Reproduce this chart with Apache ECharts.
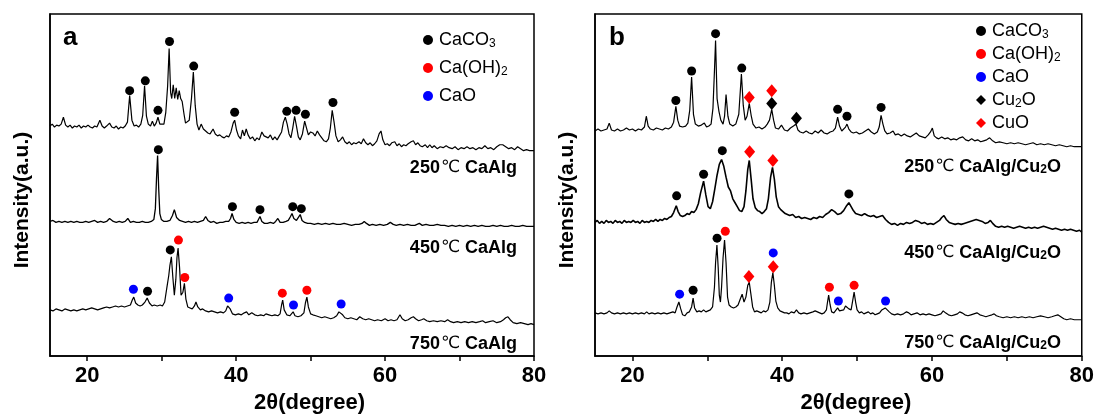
<!DOCTYPE html>
<html><head><meta charset="utf-8">
<script src="https://cdn.jsdelivr.net/npm/echarts@6/dist/echarts.min.js"></script>
<style>html,body{margin:0;padding:0;background:#fff}#c{width:1097px;height:419px}</style>
</head><body><div id="c"></div><script>
const FONT = '"Liberation Sans", Arial, "Noto Sans CJK SC", sans-serif';
const DEG_FONT = '"DejaVu Sans", "Liberation Sans", sans-serif';
const xTicks = [20, 30, 40, 50, 60, 70, 80];
const xTickLabels = [20, 40, 60, 80];
const xName = '2θ(degree)';
const yName = 'Intensity(a.u.)';
const panelNames = ['a', 'b'];
const phasesA = ['CaCO3', 'Ca(OH)2', 'CaO'];
const phasesB = ['CaCO3', 'Ca(OH)2', 'CaO', 'Cu2O', 'CuO'];
const labelsA = ['250℃ CaAlg', '450℃ CaAlg', '750℃ CaAlg'];
const labelsB = ['250℃ CaAlg/Cu2O', '450℃ CaAlg/Cu2O', '750℃ CaAlg/Cu2O'];

// ---- panel a traces: [2theta, intensity (stacked, a.u.)]
const a250 = [[15,234],[15.3,236],[15.6,233],[15.9,235],[16.2,234],[16.5,236],[16.8,243],[17.1,235],[17.4,233],[17.7,235],[18,232],[18.3,234],[18.6,233],[18.9,235],[19.2,232],[19.5,234],[19.8,233],[20.1,235],[20.4,233],[20.7,232],[21,234],[21.3,233],[21.7,240],[22,234],[22.3,232],[22.6,234],[23,237],[23.3,233],[23.6,232],[23.9,234],[24.2,231],[24.5,233],[24.8,232],[25.1,234],[25.4,238],[25.7,265],[26,240],[26.3,234],[26.6,235],[26.9,233],[27.2,236],[27.45,245],[27.7,275],[27.95,244],[28.2,236],[28.5,234],[28.75,239],[29,234],[29.25,237],[29.5,243],[29.75,236],[30,234],[30.3,236],[30.55,248],[30.8,275],[31,313],[31.2,268],[31.35,262],[31.55,276],[31.75,262],[31.95,273],[32.15,261],[32.35,270],[32.55,262],[32.75,259],[33,246],[33.2,237],[33.45,235],[33.7,240],[34,262],[34.25,289],[34.5,255],[34.75,236],[35,230],[35.3,236],[35.6,231],[35.9,229],[36.2,227],[36.5,226],[36.9,231],[37.2,226],[37.5,224],[37.8,225],[38.1,223],[38.4,222],[38.7,224],[39,223],[39.3,228],[39.6,237],[39.8,240],[40.05,230],[40.3,224],[40.6,221],[40.85,230],[41.1,224],[41.35,231],[41.6,225],[41.9,221],[42.2,223],[42.5,219],[42.8,222],[43.1,220],[43.45,228],[43.75,224],[44,226],[44.3,222],[44.6,225],[44.9,220],[45.2,223],[45.5,220],[45.8,224],[46.1,228],[46.35,238],[46.6,243],[46.85,236],[47.1,226],[47.35,222],[47.6,232],[47.85,244],[48.1,234],[48.35,223],[48.6,220],[48.9,226],[49.2,239],[49.45,232],[49.7,225],[50,228],[50.3,227],[50.6,224],[50.9,229],[51.2,225],[51.5,222],[51.8,219],[52.1,218],[52.4,221],[52.65,232],[52.9,250],[53.15,238],[53.4,224],[53.7,218],[54,220],[54.3,223],[54.6,218],[54.9,216],[55.2,218],[55.5,215],[55.8,217],[56.1,216],[56.5,218],[56.8,216],[57.1,221],[57.4,217],[57.7,215],[58,217],[58.3,214],[58.6,216],[58.9,219],[59.2,226],[59.45,229],[59.7,220],[60,215],[60.3,216],[60.6,214],[60.9,217],[61.3,218],[61.6,214],[61.9,216],[62.2,213],[62.5,215],[62.8,214],[63.1,216],[63.5,218],[63.8,219],[64.1,215],[64.4,217],[64.7,214],[65,213],[65.4,215],[65.7,212],[66,215],[66.3,212],[66.6,214],[67,211],[67.4,213],[67.8,212],[68.2,214],[68.6,212],[69,211],[69.4,213],[69.8,210],[70.2,212],[70.6,211],[71,213],[71.4,211],[71.8,212],[72.2,210],[72.6,212],[73,211],[73.4,214],[73.8,211],[74.2,212],[74.6,210],[75,213],[75.4,215],[75.8,215],[76.2,213],[76.6,211],[77,212],[77.4,210],[77.8,213],[78.2,211],[78.6,209],[79,210],[79.4,209],[80,209]];
const a450 = [[15,137],[15.4,138],[15.8,136],[16.2,137],[16.6,136],[17,137],[17.4,136],[17.8,137],[18.2,136],[18.6,137],[19,136],[19.4,136],[19.8,137],[20.2,136],[20.6,137],[21,138],[21.4,136],[21.8,137],[22.2,136],[22.6,137],[23,140],[23.2,142],[23.5,137],[23.9,136],[24.3,137],[24.7,136],[25.1,137],[25.45,140],[25.8,136],[26.2,137],[26.6,136],[27,136],[27.4,137],[27.8,136],[28.2,136],[28.6,137],[28.95,139],[29.15,150],[29.3,180],[29.45,204],[29.6,170],[29.75,145],[29.95,139],[30.3,137],[30.7,137],[31.1,138],[31.45,143],[31.7,149],[32,141],[32.4,138],[32.8,137],[33.2,136],[33.6,137],[34,136],[34.4,137],[34.8,136],[35.2,137],[35.6,138],[35.9,142],[36.2,138],[36.6,136],[37,137],[37.4,135],[37.8,136],[38.2,136],[38.6,137],[39,137],[39.25,140],[39.45,145],[39.7,139],[40,136],[40.4,135],[40.8,136],[41.2,135],[41.6,136],[42,135],[42.4,136],[42.8,136],[43,139],[43.2,142],[43.45,137],[43.8,135],[44.2,135],[44.6,136],[45,135],[45.3,137],[45.6,140],[45.9,136],[46.3,136],[46.7,137],[47,138],[47.3,142],[47.5,145],[47.75,140],[48.1,138],[48.35,140],[48.6,144],[48.85,138],[49.2,136],[49.6,135],[50,135],[50.5,134],[51,135],[51.5,134],[52,135],[52.5,134],[53,135],[53.5,134],[54,134],[54.5,135],[55,134],[55.5,133],[56,134],[56.5,134],[56.9,135],[57.2,137],[57.5,135],[57.9,133],[58.3,134],[58.8,133],[59.3,134],[59.8,133],[60.3,134],[60.7,136],[61.1,134],[61.5,133],[62,134],[62.5,133],[63,134],[63.5,133],[64,133],[64.6,135],[65,133],[65.5,134],[66,133],[66.5,133],[67,134],[67.5,133],[68,133],[68.5,132],[69,133],[69.5,132],[70,133],[70.5,132],[71,133],[71.5,132],[72,133],[72.5,132],[73,133],[73.5,132],[74,132],[74.5,133],[75,132],[75.5,133],[76,132],[76.5,132],[77,133],[77.5,132],[78,132],[78.5,133],[79,132],[79.5,132],[80,132]];
const a750 = [[15,47],[15.4,46],[15.8,48],[16.2,47],[16.6,46],[17,48],[17.4,47],[17.8,46],[18.2,47],[18.6,46],[19,47],[19.4,48],[19.8,47],[20.2,48],[20.6,49],[21,48],[21.4,47],[21.8,48],[22.2,49],[22.6,50],[23,49],[23.4,50],[23.8,51],[24.2,50],[24.6,51],[25,50],[25.4,51],[25.8,52],[26.05,57],[26.25,60],[26.5,54],[26.8,52],[27.1,51],[27.4,52],[27.75,55],[28.05,59],[28.35,54],[28.7,51],[29,52],[29.4,51],[29.8,52],[30.1,51],[30.4,55],[30.7,70],[30.95,82],[31.1,92],[31.3,101],[31.5,80],[31.7,62],[31.9,78],[32.05,100],[32.2,110],[32.4,90],[32.6,62],[32.85,65],[33.05,74],[33.25,58],[33.5,50],[33.8,49],[34.1,48],[34.4,51],[34.6,55],[34.85,50],[35.2,47],[35.5,48],[35.9,46],[36.3,45],[36.7,46],[37.1,45],[37.5,44],[37.9,45],[38.3,44],[38.6,46],[38.85,51],[39,53],[39.2,48],[39.5,43],[39.9,42],[40.3,43],[40.7,42],[41.1,44],[41.4,45],[41.7,42],[42.1,44],[42.5,42],[42.9,41],[43.3,42],[43.7,41],[44,43],[44.4,42],[44.8,41],[45.2,42],[45.6,41],[45.9,43],[46.1,52],[46.25,57],[46.45,47],[46.8,42],[47.2,41],[47.45,43],[47.65,45],[47.9,41],[48.3,40],[48.7,41],[49.1,44],[49.3,54],[49.5,60],[49.7,50],[50,43],[50.3,42],[50.7,41],[51.1,40],[51.5,39],[51.9,40],[52.3,39],[52.7,38],[53.1,39],[53.5,41],[53.8,45],[54,45],[54.3,42],[54.6,39],[55,38],[55.4,39],[55.8,38],[56.2,37],[56.6,40],[57,38],[57.4,37],[57.8,38],[58.2,37],[58.6,36],[59,37],[59.5,36],[60,38],[60.4,36],[60.8,37],[61.2,36],[61.6,37],[62,42],[62.3,38],[62.7,36],[63.1,37],[63.5,39],[63.8,40],[64.1,38],[64.5,36],[64.9,37],[65.2,38],[65.6,36],[66,35],[66.5,36],[67,35],[67.5,36],[68,35],[68.4,37],[68.8,35],[69.2,34],[69.7,35],[70.2,34],[70.7,35],[71.2,34],[71.7,35],[72.2,34],[72.7,35],[73.1,36],[73.5,34],[74,35],[74.5,36],[75,34],[75.5,35],[75.9,37],[76.2,39],[76.5,40],[76.8,37],[77.2,34],[77.7,33],[78.2,34],[78.7,33],[79.2,32],[79.6,33],[80,32]];

// ---- panel b traces
const b250 = [[15,229],[15.4,231],[15.8,229],[16.2,230],[16.6,231],[16.9,237],[17.2,230],[17.6,229],[18,231],[18.4,229],[18.8,230],[19.2,232],[19.6,230],[20,231],[20.4,229],[20.8,231],[21.2,230],[21.6,233],[21.85,244],[22.1,234],[22.4,231],[22.8,230],[23.2,232],[23.6,231],[24,230],[24.4,232],[24.8,231],[25.2,233],[25.5,238],[25.8,254],[26.05,240],[26.3,234],[26.7,233],[27.1,234],[27.4,237],[27.65,250],[27.9,284],[28.15,246],[28.4,236],[28.8,234],[29.2,235],[29.6,237],[29.9,233],[30.2,234],[30.5,236],[30.75,252],[30.95,290],[31.1,321],[31.3,262],[31.55,249],[31.8,240],[32.1,236],[32.3,244],[32.5,266],[32.75,244],[33,236],[33.4,234],[33.8,236],[34.2,246],[34.55,287],[34.8,255],[35.05,240],[35.3,244],[35.6,257],[35.85,245],[36.1,236],[36.5,232],[36.9,233],[37.3,231],[37.7,233],[38,236],[38.3,240],[38.6,251],[38.85,240],[39.1,232],[39.5,231],[39.9,235],[40.3,230],[40.7,229],[41.1,232],[41.5,234],[41.85,236],[42.1,230],[42.4,228],[42.8,227],[43.2,229],[43.6,227],[44,226],[44.4,229],[44.8,227],[45.2,230],[45.6,227],[46,226],[46.4,228],[46.8,229],[47.1,232],[47.4,243],[47.65,234],[47.95,229],[48.2,230],[48.45,233],[48.65,236],[48.9,231],[49.2,228],[49.5,227],[49.9,228],[50.3,226],[50.7,227],[51.1,229],[51.5,231],[51.9,228],[52.3,226],[52.7,228],[52.95,233],[53.2,245],[53.45,236],[53.7,229],[54,226],[54.4,227],[54.8,229],[55.1,225],[55.5,226],[55.9,224],[56.3,226],[56.7,224],[57.1,223],[57.5,225],[57.9,227],[58.3,224],[58.7,223],[59.1,222],[59.5,225],[59.8,228],[60.05,232],[60.3,224],[60.6,222],[60.9,221],[61.3,223],[61.7,221],[62.1,222],[62.5,220],[62.9,221],[63.3,220],[63.7,222],[64.1,223],[64.5,220],[64.9,219],[65.3,221],[65.7,219],[66.1,220],[66.5,218],[66.9,219],[67.3,220],[67.7,222],[68.1,219],[68.5,217],[69,218],[69.5,217],[70,216],[70.5,217],[71,216],[71.5,217],[72,216],[72.5,215],[73,216],[73.5,217],[74,215],[74.5,216],[75,215],[75.5,216],[76,215],[76.5,214],[77,215],[77.5,214],[78,213],[78.5,214],[79,213],[79.5,213],[80,213]];
const b450 = [[15,136],[15.3,138],[15.6,135],[15.9,137],[16.2,135],[16.5,138],[16.8,136],[17.1,137],[17.4,135],[17.7,138],[18,136],[18.3,137],[18.6,135],[18.9,138],[19.2,136],[19.5,137],[19.8,136],[20.1,138],[20.4,136],[20.7,137],[21,135],[21.3,138],[21.6,136],[21.9,137],[22.2,136],[22.5,138],[22.8,137],[23.1,139],[23.4,137],[23.7,139],[24,138],[24.3,140],[24.6,139],[24.9,141],[25.2,142],[25.5,146],[25.85,153],[26.1,147],[26.4,143],[26.7,142],[27,143],[27.3,145],[27.6,144],[27.9,147],[28.2,146],[28.5,149],[28.8,155],[29.1,166],[29.5,178],[29.8,164],[30.1,152],[30.4,150],[30.7,157],[31,170],[31.3,184],[31.6,195],[31.9,200],[32.2,193],[32.5,182],[32.8,172],[33.1,168],[33.4,160],[33.7,156],[34,152],[34.3,148],[34.6,147],[34.9,152],[35.15,168],[35.4,190],[35.6,199],[35.85,180],[36.1,160],[36.4,151],[36.7,148],[37,147],[37.3,145],[37.6,147],[37.9,150],[38.15,160],[38.45,182],[38.7,192],[38.95,180],[39.2,162],[39.5,152],[39.8,149],[40.1,147],[40.4,145],[40.7,144],[41,143],[41.4,144],[41.8,141],[42.2,142],[42.6,140],[43,141],[43.4,140],[43.8,139],[44.2,141],[44.6,140],[45,142],[45.4,141],[45.8,144],[46.2,146],[46.6,149],[47,147],[47.4,144],[47.8,145],[48.2,148],[48.6,153],[48.9,156],[49.2,152],[49.5,148],[49.8,145],[50.2,144],[50.6,143],[51,145],[51.4,143],[51.8,142],[52.2,143],[52.6,141],[53,142],[53.4,143],[53.8,139],[54.2,136],[54.6,134],[55,135],[55.4,133],[55.8,135],[56.2,134],[56.6,136],[57,135],[57.4,136],[57.8,138],[58.2,137],[58.6,135],[59,136],[59.4,134],[59.8,135],[60.2,134],[60.6,136],[61,138],[61.3,141],[61.6,143],[61.9,139],[62.3,136],[62.7,135],[63.1,134],[63.5,135],[63.9,134],[64.3,135],[64.7,136],[65.1,137],[65.5,138],[65.9,139],[66.3,138],[66.7,137],[67.1,135],[67.5,136],[67.8,138],[68.1,135],[68.5,132],[68.9,131],[69.3,132],[69.7,131],[70.1,132],[70.5,131],[70.9,130],[71.3,131],[71.7,132],[72.1,131],[72.5,130],[72.9,131],[73.3,130],[73.7,131],[74.1,130],[74.5,131],[74.9,132],[75.3,131],[75.7,130],[76.1,129],[76.5,130],[76.9,129],[77.3,128],[77.7,129],[78.1,128],[78.5,129],[78.9,128],[79.3,127],[79.7,128],[80,126]];
const b750 = [[15,44],[15.4,43],[15.8,44],[16.2,43],[16.6,44],[16.9,46],[17.2,44],[17.6,43],[18,44],[18.4,43],[18.8,44],[19.2,43],[19.6,44],[20,43],[20.4,44],[20.8,43],[21.2,44],[21.6,43],[21.9,45],[22.2,43],[22.6,44],[23,43],[23.4,44],[23.8,43],[24.2,44],[24.6,43],[25,44],[25.4,45],[25.7,44],[25.95,50],[26.2,55],[26.45,48],[26.7,42],[27,41],[27.3,44],[27.6,45],[27.9,50],[28.1,59],[28.3,49],[28.6,45],[28.9,46],[29.2,45],[29.5,47],[29.8,45],[30.1,46],[30.4,47],[30.7,50],[30.95,70],[31.1,95],[31.28,113],[31.45,90],[31.6,62],[31.75,55],[31.9,70],[32.1,100],[32.3,118],[32.5,95],[32.7,60],[32.9,52],[33.2,50],[33.5,49],[33.8,50],[34.1,52],[34.4,58],[34.65,63],[34.9,55],[35.15,60],[35.4,72],[35.6,75],[35.8,64],[36.05,50],[36.3,45],[36.6,46],[36.9,45],[37.2,44],[37.5,46],[37.8,45],[38.1,47],[38.35,55],[38.55,75],[38.75,85],[38.95,72],[39.15,56],[39.4,49],[39.7,46],[40,45],[40.3,44],[40.6,44],[40.9,43],[41.2,45],[41.4,47],[41.6,44],[41.9,47],[42.2,44],[42.5,43],[42.9,44],[43.3,43],[43.7,44],[44.1,45],[44.4,46],[44.7,45],[45,44],[45.3,43],[45.6,44],[45.9,47],[46.05,55],[46.2,62],[46.4,52],[46.6,45],[46.9,44],[47.15,46],[47.4,49],[47.65,46],[47.9,45],[48.2,47],[48.45,51],[48.65,53],[48.9,48],[49.2,47],[49.4,56],[49.6,65],[49.8,55],[50,47],[50.3,44],[50.6,45],[50.9,43],[51.2,44],[51.5,45],[51.8,43],[52.1,44],[52.4,42],[52.7,43],[53,44],[53.3,47],[53.55,49],[53.75,49],[54,47],[54.3,45],[54.6,43],[55,42],[55.4,43],[55.8,42],[56.2,43],[56.6,45],[56.9,44],[57.2,42],[57.6,43],[58,44],[58.4,42],[58.8,43],[59.2,42],[59.6,43],[60,42],[60.4,41],[60.8,42],[61.2,43],[61.5,46],[61.8,44],[62.2,42],[62.6,41],[63,42],[63.4,43],[63.7,45],[64,44],[64.4,42],[64.8,41],[65.2,42],[65.6,43],[66,44],[66.4,42],[66.8,41],[67.2,40],[67.6,41],[68,42],[68.3,43],[68.6,41],[69,40],[69.5,39],[70,40],[70.5,39],[71,40],[71.5,39],[72,40],[72.5,39],[73,40],[73.5,39],[74,40],[74.5,41],[75,40],[75.5,39],[76,40],[76.4,41],[76.8,42],[77.2,40],[77.6,38],[78,37],[78.5,38],[79,37],[79.5,37],[80,37]];

// ---- phase markers [2theta, marker height]
const aCaCO3 = [[25.7,270],[27.8,280],[29.5,250],[31.05,320],[34.3,295],[39.8,248],[46.8,249],[48.05,250],[49.3,246],[53.0,258],[29.55,210],[39.5,152],[43.2,149],[47.6,152],[48.75,150],[28.1,66],[31.15,108]];
const aCaOH2 = [[32.25,118],[33.1,80],[46.2,64],[49.5,67]];
const aCaO = [[26.2,68],[39.0,59],[47.7,52],[54.1,53]];
const bCaCO3 = [[25.8,260],[27.9,290],[31.1,328],[34.6,293],[47.4,251],[48.65,244],[53.2,253],[25.9,163],[29.5,185],[32.0,209],[48.9,165],[28.1,67],[31.3,120]];
const bCaOH2 = [[32.4,127],[46.3,70],[49.6,72]];
const bCaO = [[26.3,63],[38.8,105],[47.5,56],[53.8,56]];
const bCu2O = [[38.6,257],[41.9,242]];
const bCuO = [[35.6,263],[38.6,270],[35.65,208],[38.75,199],[35.55,81],[38.8,91]];

const colorOf = {'CaCO3':'#000000','Ca(OH)2':'#ff0000','CaO':'#0000ff','Cu2O':'#000000','CuO':'#ff0000'};
const iconOf = n => (n === 'Cu2O' || n === 'CuO') ? 'diamond' : 'circle';
const sub = s => s.replace(/([A-Za-z\)])(\d)/g, '$1{s|$2}').replace(/℃/g, '{c|℃}');

const grids = [
  {left: 50, top: 14, width: 484, height: 348},
  {left: 595, top: 14, width: 488, height: 348}
];

function xAxisFor(i) {
  return {
    gridIndex: i, type: 'value', min: 15, max: 80,
    name: xName, nameLocation: 'middle', nameGap: 32,
    nameTextStyle: {fontFamily: FONT, fontSize: 22, fontWeight: 'bold', color: '#000', padding: [0,0,0,35]},
    axisLine: {show: true, lineStyle: {color: '#000', width: 1.5}},
    axisTick: {show: true, inside: false, length: 5, customValues: xTicks, lineStyle: {color: '#000', width: 1.5}},
    axisLabel: {customValues: xTickLabels, margin: 9, fontFamily: FONT, fontSize: 22, fontWeight: 'bold', color: '#000'},
    splitLine: {show: false}
  };
}
function yAxisFor(i) {
  return {
    gridIndex: i, type: 'value', min: 0, max: 348,
    name: yName, nameLocation: 'middle', nameGap: 17, nameRotate: 90,
    nameTextStyle: {fontFamily: FONT, fontSize: 21, fontWeight: 'bold', color: '#000', padding: [0,30,0,0]},
    axisLine: {show: true, lineStyle: {color: '#000', width: 1.5}},
    axisTick: {show: false}, axisLabel: {show: false}, splitLine: {show: false}
  };
}
function lineSeries(data, i, w) {
  return {type: 'line', xAxisIndex: i, yAxisIndex: i, data: data, symbol: 'none',
    lineStyle: {color: '#000', width: w}, silent: true, z: 2};
}
function markSeries(name, data, i) {
  const dia = iconOf(name) === 'diamond';
  return {type: 'scatter', name: name, xAxisIndex: i, yAxisIndex: i, data: data,
    symbol: iconOf(name), symbolSize: dia ? [11, 13] : 9,
    itemStyle: {color: colorOf[name], opacity: 1}, z: 5, silent: true};
}
const legendText = {
  fontFamily: FONT, fontSize: 18, color: '#000', lineHeight: 20, padding: [0,0,0,1],
  rich: {s: {fontFamily: FONT, fontSize: 12, color: '#000', lineHeight: 14, verticalAlign: 'bottom'}}
};
function legendFor(names, left, top, gap) {
  return {
    orient: 'vertical', left: left, top: top, padding: 0, itemGap: gap, itemWidth: 10, itemHeight: 10,
    selectedMode: false, data: names.map(n => ({name: n, icon: iconOf(n)})),
    formatter: n => sub(n), textStyle: legendText
  };
}
function textEl(text, x, y, size, align) {
  return {type: 'text', x: x, y: y, silent: true,
    style: {text: sub(text), fill: '#000', font: 'bold ' + size + 'px ' + FONT,
      textAlign: align, textVerticalAlign: 'middle', align: align, verticalAlign: 'middle',
      rich: {
        s: {fontFamily: FONT, fontWeight: 'bold', fontSize: 12, fill: '#000', lineHeight: 14, verticalAlign: 'bottom'},
        c: {fontFamily: DEG_FONT, fontWeight: 'normal', fontSize: 17, fill: '#000', padding: [0, 0, 0, 1]}
      }}};
}
const labelYsA = [168, 248, 344];
const labelYsB = [167, 253, 343];

const chart = echarts.init(document.getElementById('c'), null, {renderer: 'canvas'});
chart.setOption({
  animation: false,
  backgroundColor: '#fff',
  grid: grids.map(g => Object.assign({show: true, borderColor: '#000', borderWidth: 1.5, backgroundColor: 'transparent'}, g)),
  xAxis: [xAxisFor(0), xAxisFor(1)],
  yAxis: [yAxisFor(0), yAxisFor(1)],
  legend: [legendFor(phasesA, 423, 30, 8), legendFor(phasesB, 976, 21, 3)],
  series: [
    lineSeries(a250, 0, 1.2), lineSeries(a450, 0, 1.3), lineSeries(a750, 0, 1.2),
    lineSeries(b250, 1, 1.2), lineSeries(b450, 1, 1.6), lineSeries(b750, 1, 1.2),
    markSeries('CaCO3', aCaCO3, 0), markSeries('Ca(OH)2', aCaOH2, 0), markSeries('CaO', aCaO, 0),
    markSeries('CaCO3', bCaCO3, 1), markSeries('Ca(OH)2', bCaOH2, 1), markSeries('CaO', bCaO, 1),
    markSeries('Cu2O', bCu2O, 1), markSeries('CuO', bCuO, 1)
  ],
  graphic: [
    textEl(panelNames[0], 63, 38, 26, 'left'),
    textEl(panelNames[1], 609, 38, 26, 'left')
  ].concat(labelsA.map((t, k) => textEl(t, 517, labelYsA[k], 18, 'right')))
   .concat(labelsB.map((t, k) => textEl(t, 1061, labelYsB[k], 18, 'right')))
});
</script></body></html>
